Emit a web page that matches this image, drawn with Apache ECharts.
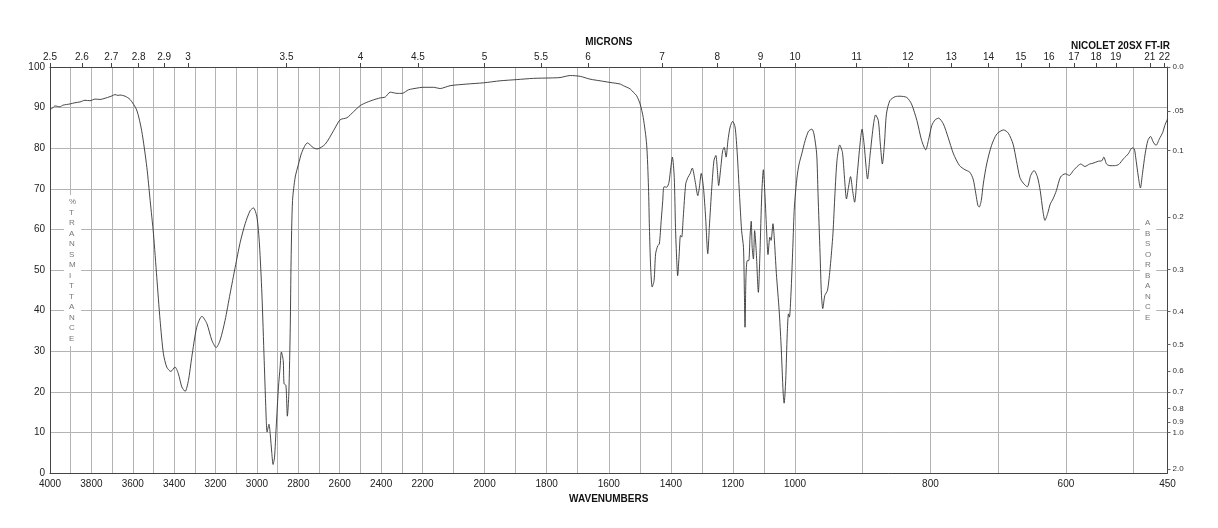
<!DOCTYPE html>
<html><head><meta charset="utf-8">
<script src="https://cdn.jsdelivr.net/npm/echarts@6/dist/echarts.min.js"></script>
<style>html,body{margin:0;padding:0;background:#fff}#c{width:1218px;height:528px}</style>
</head><body><div id="c"></div>
<script>
// ---- DATA ----
// IR spectrum: [wavenumber (cm-1), % transmittance]
const spectrum = [
[4000,89.6],[3990,89.8],[3976,90.4],[3952,90.2],[3937,90.6],[3903,90.9],[3879,91.2],[3855,91.4],[3831,91.8],[3807,91.7],
[3782,92.1],[3758,92.0],[3734,92.3],[3710,92.7],[3700,92.9],[3686,93.2],[3671,93.0],[3662,93.1],[3637,92.8],[3613,92.0],
[3581,89.4],[3557,84.3],[3532,75.3],[3516,67.1],[3500,58.9],[3484,48.2],[3468,37.6],[3452,29.4],[3436,26.1],[3416,25.0],
[3396,26.1],[3380,24.5],[3363,21.2],[3347,20.1],[3331,22.8],[3315,28.5],[3291,35.9],[3266,38.6],[3242,36.8],[3218,32.7],
[3197,30.9],[3178,32.7],[3154,37.6],[3130,44.1],[3105,50.7],[3081,56.8],[3057,61.4],[3033,64.6],[3017,65.3],[3000,63.0],
[2988,56.4],[2976,44.1],[2965,27.7],[2955,13.0],[2951,10.1],[2942,12.0],[2936,9.7],[2928,4.8],[2922,2.1],[2915,3.9],
[2907,11.3],[2896,21.2],[2888,26.1],[2882,29.8],[2873,27.7],[2869,22.0],[2860,21.6],[2853,14.0],[2846,19.5],[2839,36.0],
[2835,52.3],[2828,67.1],[2815,72.9],[2799,76.1],[2783,79.0],[2756,81.3],[2727,80.1],[2710,79.8],[2670,81.0],[2630,84.3],
[2598,87.0],[2565,87.5],[2533,89.0],[2501,90.5],[2469,91.3],[2437,91.9],[2404,92.4],[2380,92.6],[2356,93.8],[2323,93.5],
[2299,93.5],[2267,94.4],[2227,94.8],[2200,95.0],[2165,95.0],[2143,94.7],[2111,95.4],[2057,95.8],[2004,96.1],[1950,96.6],
[1896,96.9],[1843,97.2],[1789,97.3],[1757,97.4],[1724,97.9],[1692,97.7],[1660,97.0],[1628,96.6],[1596,96.2],[1563,95.8],
[1553,95.4],[1531,94.6],[1521,93.8],[1510,92.9],[1499,90.9],[1489,87.6],[1478,81.0],[1472,70.4],[1469,60.5],[1465,50.7],
[1460,45.8],[1454,47.4],[1449,54.0],[1442,56.0],[1437,56.4],[1431,62.2],[1426,67.1],[1422,70.5],[1413,70.4],[1406,71.6],
[1400,75.3],[1395,77.8],[1389,72.8],[1385,60.5],[1381,52.3],[1378,48.6],[1373,54.0],[1369,58.5],[1365,58.1],[1360,63.0],
[1352,71.2],[1345,72.8],[1338,73.7],[1331,75.1],[1322,72.0],[1313,68.3],[1308,70.4],[1302,73.8],[1295,70.4],[1288,63.0],
[1281,54.0],[1276,60.5],[1268,70.4],[1261,77.0],[1255,78.2],[1250,74.5],[1246,70.8],[1239,75.3],[1233,79.4],[1228,80.2],
[1222,77.8],[1216,81.9],[1209,85.2],[1201,86.6],[1193,85.2],[1186,78.6],[1179,68.8],[1172,59.7],[1166,55.6],[1163,44.1],
[1161,35.9],[1158,48.2],[1154,52.3],[1149,52.3],[1145,58.1],[1141,62.0],[1138,55.6],[1134,52.7],[1130,59.7],[1125,54.8],
[1118,44.5],[1113,54.0],[1107,68.8],[1102,74.7],[1097,68.8],[1091,58.9],[1087,53.8],[1081,58.1],[1077,57.3],[1071,61.4],
[1067,58.1],[1060,49.1],[1051,40.0],[1045,31.8],[1038,19.5],[1035,17.2],[1030,22.8],[1025,34.3],[1021,39.2],[1018,38.4],
[1013,44.1],[1007,55.6],[1002,65.5],[997,72.9],[994,76.1],[990,78.6],[985,81.9],[980,84.2],[975,84.7],[972,83.5],
[968,78.6],[966,68.8],[963,54.0],[961,44.1],[959,40.5],[956,43.7],[952,45.0],[948,50.7],[944,58.9],[941,68.8],
[938,77.0],[934,80.8],[930,79.0],[927,72.9],[924,67.5],[921,70.4],[918,73.0],[915,69.6],[912,66.7],[908,73.7],
[904,81.0],[901,84.7],[898,81.0],[895,75.3],[893,72.4],[889,78.6],[884,86.0],[881,88.2],[877,86.8],[874,81.0],
[871,76.1],[868,81.0],[865,88.4],[860,91.7],[852,92.7],[845,92.8],[835,92.5],[828,90.9],[820,86.8],[813,81.9],
[807,79.6],[803,81.9],[798,85.6],[793,87.0],[788,87.4],[781,86.0],[774,82.7],[766,78.6],[757,75.7],[749,74.7],
[742,74.1],[737,72.4],[733,68.8],[730,65.9],[728,65.5],[725,67.1],[722,71.2],[717,76.1],[710,80.6],[702,83.5],
[692,84.5],[685,83.7],[678,81.0],[673,76.9],[668,72.8],[663,71.4],[657,70.5],[652,73.3],[647,74.5],[642,72.9],
[638,69.6],[634,64.6],[631,62.2],[627,63.9],[623,66.3],[619,67.5],[614,69.6],[608,72.9],[601,73.7],[595,73.3],
[589,74.5],[582,75.7],[578,76.1],[572,75.5],[565,76.1],[560,76.3],[552,76.8],[547,76.9],[544,77.8],[540,76.1],
[535,75.7],[528,75.7],[522,76.0],[515,77.4],[508,78.6],[502,80.1],[499,79.8],[497,77.8],[493,72.9],[490,70.2],
[487,73.7],[483,78.6],[479,81.9],[475,82.9],[471,81.5],[467,80.7],[462,82.3],[457,83.9],[454,85.6],[451,86.8],[450,87.2]
];
const wavenumberLabels = [4000,3800,3600,3400,3200,3000,2800,2600,2400,2200,2000,1800,1600,1400,1200,1000,800,600,450];
const wavenumberGrid = [4000,3900,3800,3700,3600,3500,3400,3300,3200,3100,3000,2900,2800,2700,2600,2500,2400,2300,2200,
  2100,2000,1900,1800,1700,1600,1500,1400,1300,1200,1100,1000,900,800,700,600,500];
const micronLabels = [2.5,2.6,2.7,2.8,2.9,3,3.5,4,4.5,5,5.5,6,7,8,9,10,11,12,13,14,15,16,17,18,19,21,22];
const absorbanceTicks = [0,0.05,0.1,0.2,0.3,0.4,0.5,0.6,0.7,0.8,0.9,1.0,2.0];
const absorbanceLabels = ['0.0','.05','0.1','0.2','0.3','0.4','0.5','0.6','0.7','0.8','0.9','1.0','2.0'];

// ---- piecewise-linear wavenumber scale (chart expands below 2200 and 1000 cm-1) ----
function pos(w){
  if (w >= 2200) return (4000 - w) / 1800;
  if (w >= 1000) return 1 + (2200 - w) / 1200;
  return 2 + (1000 - w) / 550;
}
function inv(p){
  if (p <= 1) return 4000 - 1800 * p;
  if (p <= 2) return 2200 - 1200 * (p - 1);
  return 1000 - 550 * (p - 2);
}
const absT = absorbanceTicks.map(a => 100 * Math.pow(10, -a));

const FONT = '"Liberation Sans", Arial, Helvetica, sans-serif';
const chart = echarts.init(document.getElementById('c'), null, {renderer: 'canvas'});
chart.setOption({
  animation: false,
  backgroundColor: '#fff',
  textStyle: {fontFamily: FONT},
  title: {
    text: 'NICOLET 20SX FT-IR', right: 43, top: 36,
    textStyle: {fontSize: 10, fontWeight: 'bold', color: '#111', fontFamily: FONT}
  },
  grid: {left: 50, right: 50.5, top: 67, bottom: 55},
  xAxis: [{
    type: 'value', min: 0, max: 3, position: 'bottom',
    name: 'WAVENUMBERS', nameLocation: 'middle', nameGap: 18,
    nameTextStyle: {fontSize: 10, fontWeight: 'bold', color: '#111', fontFamily: FONT},
    axisLine: {show: true, onZero: false, lineStyle: {color: '#444', width: 1}},
    axisTick: {show: false, customValues: wavenumberGrid.map(pos)},
    splitLine: {show: true, lineStyle: {color: '#b4b4b4', width: 1}},
    axisLabel: {
      customValues: wavenumberLabels.map(pos), margin: 6, fontSize: 10, color: '#222', fontFamily: FONT,
      formatter: v => String(Math.round(inv(v)))
    }
  }, {
    type: 'value', min: 0, max: 3, position: 'top',
    name: 'MICRONS', nameLocation: 'middle', nameGap: 17,
    nameTextStyle: {fontSize: 10, fontWeight: 'bold', color: '#111', fontFamily: FONT},
    axisLine: {show: true, onZero: false, lineStyle: {color: '#444', width: 1}},
    axisTick: {show: true, length: 4, customValues: micronLabels.map(m => pos(10000 / m)), lineStyle: {color: '#444'}},
    splitLine: {show: false},
    axisLabel: {
      customValues: micronLabels.map(m => pos(10000 / m)), margin: 5, fontSize: 10, color: '#222', fontFamily: FONT,
      formatter: v => { const r = Math.round(10000 / inv(v) * 10) / 10; return Number.isInteger(r) ? String(r) : r.toFixed(1); }
    }
  }],
  yAxis: [{
    type: 'value', min: 0, max: 100, interval: 10, position: 'left',
    axisLine: {show: true, onZero: false, lineStyle: {color: '#444', width: 1}},
    axisTick: {show: false},
    splitLine: {show: true, lineStyle: {color: '#b4b4b4', width: 1}},
    axisLabel: {margin: 5, fontSize: 10, color: '#222', fontFamily: FONT}
  }, {
    type: 'value', min: 0, max: 100, position: 'right',
    axisLine: {show: true, onZero: false, lineStyle: {color: '#444', width: 1}},
    axisTick: {show: true, length: 3, customValues: absT, lineStyle: {color: '#666'}},
    splitLine: {show: false},
    axisLabel: {
      customValues: absT, margin: 5, fontSize: 8, color: '#333', fontFamily: FONT,
      formatter: v => { let bi = 0, bd = 1e9; absT.forEach((t, i) => { const d = Math.abs(t - v); if (d < bd) { bd = d; bi = i; } }); return absorbanceLabels[bi]; }
    }
  }],
  graphic: [{
    type: 'text', left: 64, top: 195, z: 100,
    style: {
      text: '%\nT\nR\nA\nN\nS\nM\nI\nT\nT\nA\nN\nC\nE', fill: '#777', font: '8px ' + FONT,
      lineHeight: 10.5, align: 'center', backgroundColor: '#fff', padding: [2, 5]
    }
  }, {
    type: 'text', left: 1140, top: 216, z: 100,
    style: {
      text: 'A\nB\nS\nO\nR\nB\nA\nN\nC\nE', fill: '#777', font: '8px ' + FONT,
      lineHeight: 10.5, align: 'center', backgroundColor: '#fff', padding: [2, 5]
    }
  }],
  series: [{
    type: 'line', xAxisIndex: 0, yAxisIndex: 0,
    data: spectrum.map(d => [pos(d[0]), d[1]]),
    showSymbol: false, smooth: 0.25,
    lineStyle: {color: '#333', width: 0.9},
    z: 3
  }]
});
</script></body></html>
